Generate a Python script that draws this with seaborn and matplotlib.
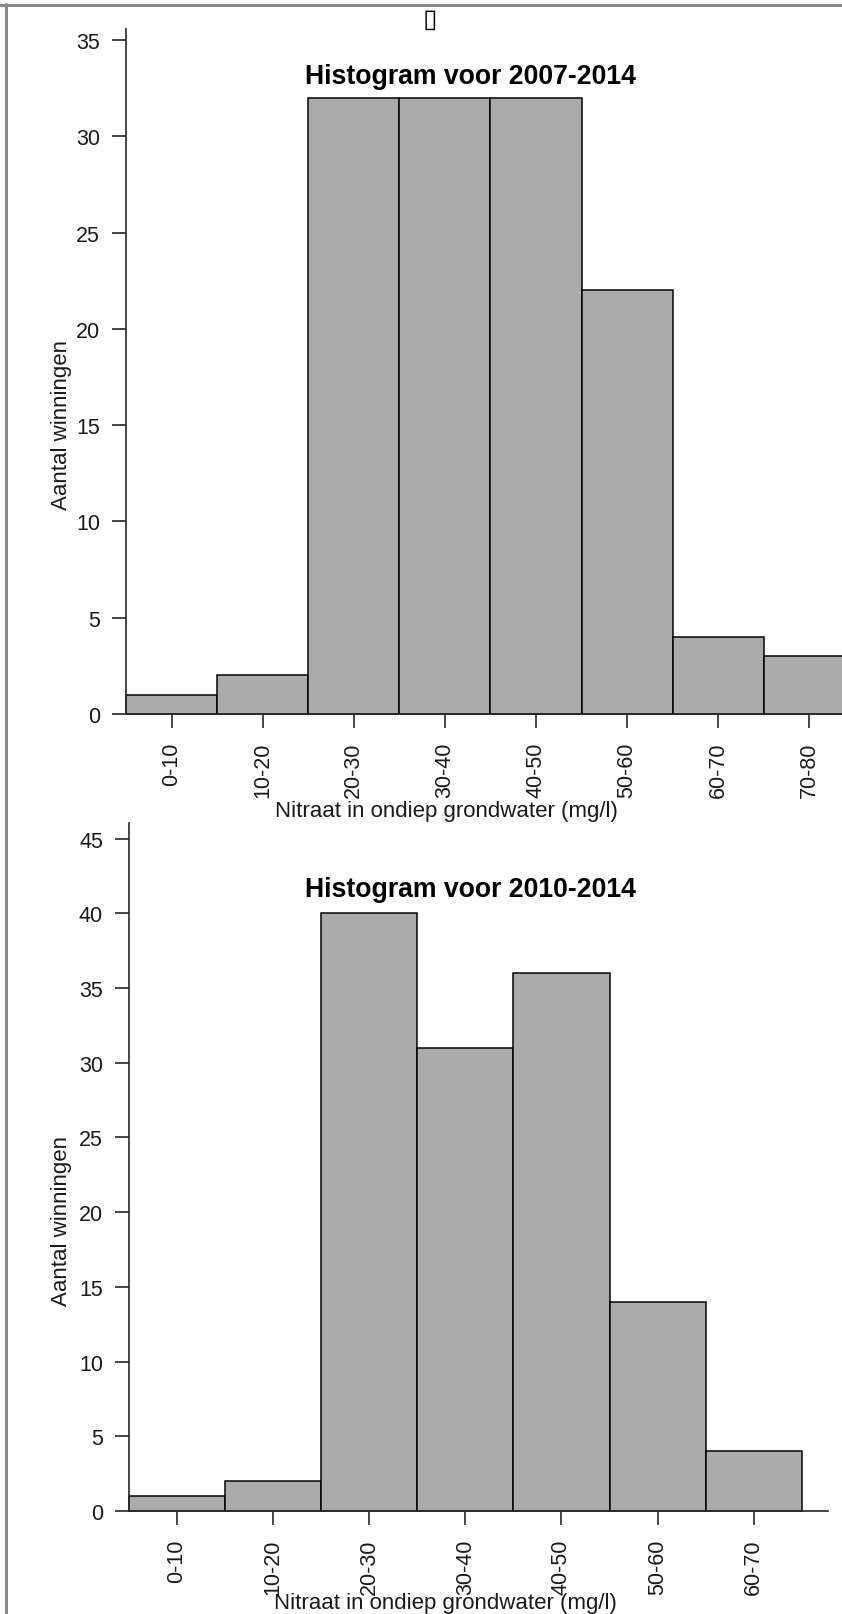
import matplotlib
matplotlib.use("Agg")
import matplotlib.pyplot as plt
from matplotlib.lines import Line2D
import seaborn as sns
import pandas as pd

# Nitrate classes (mg/l) and number of abstractions per class
klassen_2007 = ["0-10", "10-20", "20-30", "30-40", "40-50", "50-60", "60-70", "70-80"]
aantal_2007 = [1, 2, 32, 32, 32, 22, 4, 3]

klassen_2010 = ["0-10", "10-20", "20-30", "30-40", "40-50", "50-60", "60-70"]
aantal_2010 = [1, 2, 40, 31, 36, 14, 4]

titel_2007 = "Histogram voor 2007-2014"
titel_2010 = "Histogram voor 2010-2014"
x_label = "Nitraat in ondiep grondwater (mg/l)"
y_label = "Aantal winningen"
y_ticks_2007 = [0, 5, 10, 15, 20, 25, 30, 35]
y_ticks_2010 = [0, 5, 10, 15, 20, 25, 30, 35, 40, 45]

sns.set_theme(style="white")
plt.rcParams["font.family"] = ["Liberation Sans", "DejaVu Sans"]

W, H = 842, 1615
fig = plt.figure(figsize=(W / 100, H / 100), dpi=100)
fig.patch.set_facecolor("white")

BAR_FILL = "#ababab"
AXIS_COL = "#2b2b2b"
TXT_COL = "#1a1a1a"
PX = 72 / 100  # points per pixel at 100 dpi


def px_axes(left, top, right, bottom):
    return fig.add_axes([left / W, 1 - bottom / H, (right - left) / W, (bottom - top) / H])


def draw_panel(ax, klassen, aantal, yticks, ytop, xright):
    df = pd.DataFrame({"klasse": klassen, "aantal": aantal})
    sns.barplot(data=df, x="klasse", y="aantal", ax=ax, color=BAR_FILL,
                width=1.0, edgecolor="black", linewidth=1.5 * PX, saturation=1)
    for p in ax.patches:
        p.set_facecolor(BAR_FILL)
        p.set_clip_on(False)
    ax.set_xlim(-0.5, xright)
    ax.set_ylim(0, ytop)
    ax.set_yticks(yticks)
    ax.set_yticklabels([str(v) for v in yticks])
    ax.set_xticks(range(len(klassen)))
    ax.set_xticklabels(klassen, rotation=90)
    ax.set_xlabel("")
    ax.set_ylabel("")
    for s in ["top", "right"]:
        ax.spines[s].set_visible(False)
    for s in ["left", "bottom"]:
        ax.spines[s].set_color(AXIS_COL)
        ax.spines[s].set_linewidth(1.7 * PX)
    ax.tick_params(axis="both", which="major", length=14 * PX, width=1.7 * PX,
                   color=AXIS_COL, labelsize=15.5, labelcolor=TXT_COL,
                   bottom=True, left=True, direction="out")
    ax.tick_params(axis="y", pad=12 * PX)
    ax.tick_params(axis="x", pad=14 * PX)
    ax.set_facecolor("white")
    ax.grid(False)


# top panel: 2007-2014 (bars run past the right edge of the figure)
ax1 = px_axes(126, 30, 126 + 8 * 91.1, 715)
draw_panel(ax1, klassen_2007, aantal_2007, y_ticks_2007, 35.57, 7.5)

# bottom panel: 2010-2014
ax2 = px_axes(129, 824, 129 + 7.27 * 96.1, 1512)
draw_panel(ax2, klassen_2010, aantal_2010, y_ticks_2010, 46.05, 6.77)

# titles and axis labels
fig.text(470 / W, 1 - 77 / H, titel_2007, ha="center", va="center",
         fontsize=19.2, fontweight="bold", color="black")
fig.text(470 / W, 1 - 890 / H, titel_2010, ha="center", va="center",
         fontsize=19.2, fontweight="bold", color="black")

fig.text(446 / W, 1 - 812 / H, x_label, ha="center", va="center",
         fontsize=16, color=TXT_COL)
fig.text(445 / W, 1 - 1604 / H, x_label, ha="center", va="center",
         fontsize=16, color=TXT_COL)

fig.text(61 / W, 1 - 425 / H, y_label, ha="center", va="center",
         rotation=90, fontsize=16, color=TXT_COL)
fig.text(61 / W, 1 - 1221 / H, y_label, ha="center", va="center",
         rotation=90, fontsize=16, color=TXT_COL)

# placeholder glyph at the top of the page
fig.text(430 / W, 1 - 20 / H, "\u25af", ha="center", va="center",
         fontsize=19, color="black", family=["DejaVu Sans"])

# window frame along the top and left edges
fig.add_artist(Line2D([0, 1], [1 - 5.5 / H, 1 - 5.5 / H], transform=fig.transFigure,
                      color="#888888", linewidth=3 * PX))
fig.add_artist(Line2D([5.5 / W, 5.5 / W], [0, 1 - 4.5 / H], transform=fig.transFigure,
                      color="#888888", linewidth=3 * PX))

fig.savefig("out.png", dpi=100, facecolor="white")
